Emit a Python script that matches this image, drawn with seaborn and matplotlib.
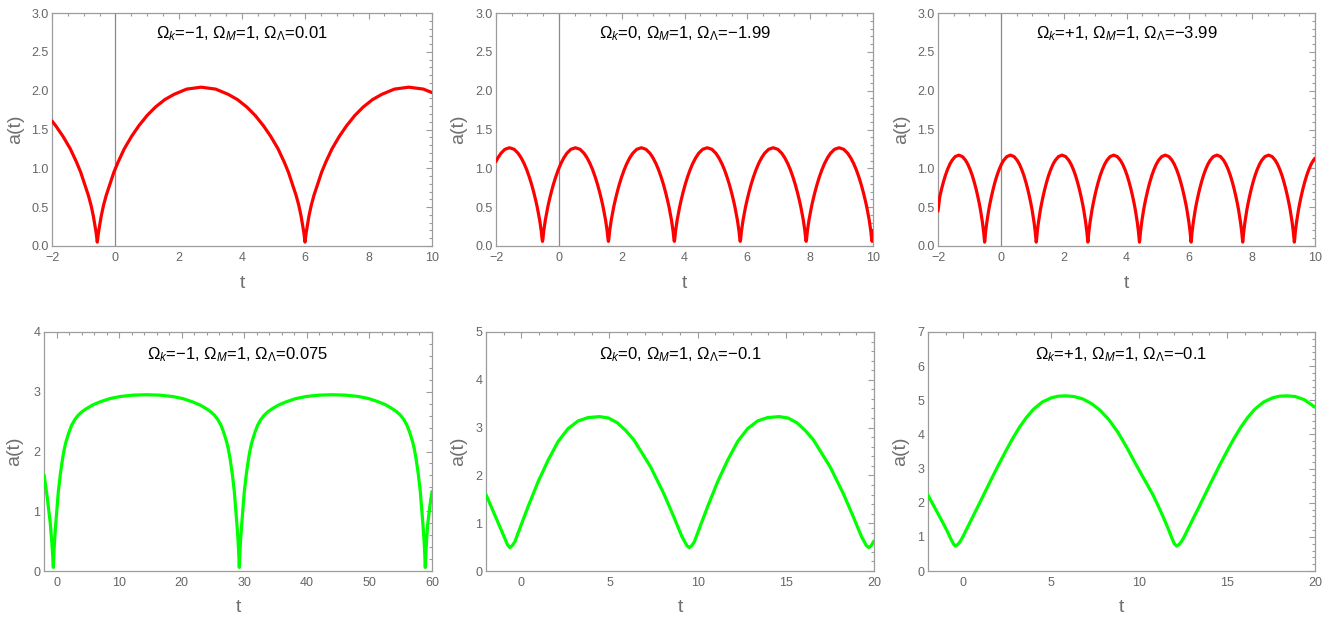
import matplotlib
matplotlib.use("Agg")
import matplotlib.pyplot as plt
import seaborn as sns
from matplotlib.ticker import MultipleLocator

# ---------------- data ----------------
# (points need not be in order: seaborn sorts them by t)
# Panel 1: Omega_k=-1, Omega_M=1, Omega_L=0.01
t1 = [-2.0, -1.882, -1.423, -1.095, -0.852, -0.695, -0.609, -0.57,
      -0.531, -0.445, -0.288, -0.045, 0.283, 0.742, 1.267, 1.857, 2.251, 2.71, 3.169, 3.563,
      4.153, 4.678, 5.137, 5.465, 5.708, 5.865, 5.951, 5.99,
      6.029, 6.115, 6.272, 6.515, 6.843, 7.302, 7.827, 8.417, 8.811, 9.27, 9.729, 10.0,
      -1.652, -1.226, -0.767, -0.373, 0.086, 0.512, 1.004, 1.562, 3.858, 4.416, 4.908, 5.334, 5.793,
      6.187, 6.646, 7.072, 7.564, 8.122]
a1 = [1.61, 1.548, 1.252, 0.951, 0.652, 0.387, 0.178, 0.05,
      0.178, 0.387, 0.652, 0.951, 1.252, 1.548, 1.789, 1.953, 2.020, 2.045, 2.020, 1.953,
      1.789, 1.548, 1.252, 0.951, 0.652, 0.387, 0.178, 0.05,
      0.178, 0.387, 0.652, 0.951, 1.252, 1.548, 1.789, 1.953, 2.020, 2.045, 2.020, 1.975,
      1.411, 1.080, 0.524, 0.524, 1.080, 1.411, 1.681, 1.885, 1.885, 1.681, 1.411, 1.080, 0.524,
      0.524, 1.080, 1.411, 1.681, 1.885]

# Panel 2: Omega_k=0, Omega_M=1, Omega_L=-1.99
t2 = [-2.0, -1.842, -1.716, -1.569, -1.422, -1.296, -1.107, -0.940, -0.793, -0.688, -0.610, -0.560, -0.533,
      -0.52, -0.507, -0.480, -0.430, -0.352, -0.247, -0.100, 0.067, 0.256, 0.382, 0.529, 0.676, 0.802, 0.991, 1.158, 1.305, 1.410, 1.488, 1.538, 1.565,
      1.578, 1.591, 1.618, 1.668, 1.746, 1.851, 1.998, 2.165, 2.354, 2.480, 2.627, 2.774, 2.900, 3.089, 3.256, 3.403, 3.508, 3.586, 3.636, 3.663,
      3.676, 3.689, 3.716, 3.766, 3.844, 3.949, 4.096, 4.263, 4.452, 4.578, 4.725, 4.872, 4.998, 5.187, 5.354, 5.501, 5.606, 5.684, 5.734, 5.761,
      5.774, 5.787, 5.814, 5.864, 5.942, 6.047, 6.194, 6.361, 6.550, 6.676, 6.823, 6.970, 7.096, 7.285, 7.452, 7.599, 7.704, 7.782, 7.832, 7.859,
      7.872, 7.885, 7.912, 7.962, 8.040, 8.145, 8.292, 8.459, 8.648, 8.774, 8.921, 9.068, 9.194, 9.383, 9.550, 9.697, 9.802, 9.880, 9.930, 9.957,
      9.970, 9.983, 10.0,
      -1.936, -1.202, -1.023, -0.866, -0.730,
      -0.310, -0.174, -0.016, 0.162, 0.896, 1.075, 1.232, 1.368,
      1.788, 1.924, 2.082, 2.260, 2.994, 3.173, 3.330, 3.466,
      3.886, 4.022, 4.180, 4.358, 5.092, 5.271, 5.428, 5.564,
      5.984, 6.120, 6.278, 6.456, 7.190, 7.369, 7.526, 7.662,
      8.082, 8.218, 8.376, 8.554, 9.288, 9.467, 9.624, 9.760]
a2 = [1.089, 1.194, 1.245, 1.265, 1.245, 1.194, 1.063, 0.888, 0.683, 0.501, 0.333, 0.194, 0.090,
      0.06, 0.090, 0.194, 0.333, 0.501, 0.683, 0.888, 1.063, 1.194, 1.245, 1.265, 1.245, 1.194, 1.063, 0.888, 0.683, 0.501, 0.333, 0.194, 0.090,
      0.06, 0.090, 0.194, 0.333, 0.501, 0.683, 0.888, 1.063, 1.194, 1.245, 1.265, 1.245, 1.194, 1.063, 0.888, 0.683, 0.501, 0.333, 0.194, 0.090,
      0.06, 0.090, 0.194, 0.333, 0.501, 0.683, 0.888, 1.063, 1.194, 1.245, 1.265, 1.245, 1.194, 1.063, 0.888, 0.683, 0.501, 0.333, 0.194, 0.090,
      0.06, 0.090, 0.194, 0.333, 0.501, 0.683, 0.888, 1.063, 1.194, 1.245, 1.265, 1.245, 1.194, 1.063, 0.888, 0.683, 0.501, 0.333, 0.194, 0.090,
      0.06, 0.090, 0.194, 0.333, 0.501, 0.683, 0.888, 1.063, 1.194, 1.245, 1.265, 1.245, 1.194, 1.063, 0.888, 0.683, 0.501, 0.333, 0.194, 0.090,
      0.06, 0.090, 0.20,
      1.137, 1.137, 0.983, 0.792, 0.578,
      0.578, 0.792, 0.983, 1.137, 1.137, 0.983, 0.792, 0.578,
      0.578, 0.792, 0.983, 1.137, 1.137, 0.983, 0.792, 0.578,
      0.578, 0.792, 0.983, 1.137, 1.137, 0.983, 0.792, 0.578,
      0.578, 0.792, 0.983, 1.137, 1.137, 0.983, 0.792, 0.578,
      0.578, 0.792, 0.983, 1.137, 1.137, 0.983, 0.792, 0.578]

# Panel 3: Omega_k=+1, Omega_M=1, Omega_L=-3.99
t3 = [-2.0, -1.945, -1.830, -1.699, -1.551, -1.338, -1.124, -0.976, -0.845, -0.730, -0.647, -0.587, -0.547, -0.526,
      -0.516, -0.506, -0.485, -0.445, -0.385, -0.302, -0.187, -0.056, 0.092, 0.306, 0.519, 0.667, 0.798, 0.913, 0.996, 1.056, 1.096, 1.117,
      1.127, 1.137, 1.158, 1.198, 1.258, 1.341, 1.456, 1.587, 1.735, 1.949, 2.162, 2.310, 2.441, 2.556, 2.639, 2.699, 2.739, 2.760,
      2.770, 2.780, 2.801, 2.841, 2.901, 2.984, 3.099, 3.230, 3.378, 3.592, 3.805, 3.953, 4.084, 4.199, 4.282, 4.342, 4.382, 4.403,
      4.413, 4.423, 4.444, 4.484, 4.544, 4.627, 4.742, 4.873, 5.021, 5.235, 5.448, 5.596, 5.727, 5.842, 5.925, 5.985, 6.025, 6.046,
      6.056, 6.066, 6.087, 6.127, 6.187, 6.270, 6.385, 6.516, 6.664, 6.878, 7.091, 7.239, 7.370, 7.485, 7.568, 7.628, 7.668, 7.689,
      7.699, 7.709, 7.730, 7.770, 7.830, 7.913, 8.028, 8.159, 8.307, 8.521, 8.734, 8.882, 9.013, 9.128, 9.211, 9.271, 9.311, 9.332,
      9.342, 9.352, 9.373, 9.413, 9.473, 9.556, 9.671, 9.802, 9.950, 10.0,
      -1.888, -1.765, -1.625, -1.453, -1.223, -1.050, -0.910, -0.787, -0.680,
      -0.352, -0.245, -0.122, 0.018, 0.191, 0.421, 0.593, 0.733, 0.856, 0.963,
      1.291, 1.398, 1.521, 1.661, 1.834, 2.064, 2.236, 2.376, 2.499, 2.606,
      2.934, 3.041, 3.164, 3.304, 3.477, 3.707, 3.879, 4.019, 4.142, 4.249,
      4.577, 4.684, 4.807, 4.947, 5.120, 5.350, 5.522, 5.662, 5.785, 5.892,
      6.220, 6.327, 6.450, 6.590, 6.763, 6.993, 7.165, 7.305, 7.428, 7.535,
      7.863, 7.970, 8.093, 8.233, 8.406, 8.636, 8.808, 8.948, 9.071, 9.178,
      9.506, 9.613, 9.736, 9.876]
a3 = [0.45, 0.632, 0.821, 0.983, 1.104, 1.17, 1.104, 0.983, 0.821, 0.632, 0.463, 0.308, 0.179, 0.083,
      0.05, 0.083, 0.179, 0.308, 0.463, 0.632, 0.821, 0.983, 1.104, 1.17, 1.104, 0.983, 0.821, 0.632, 0.463, 0.308, 0.179, 0.083,
      0.05, 0.083, 0.179, 0.308, 0.463, 0.632, 0.821, 0.983, 1.104, 1.17, 1.104, 0.983, 0.821, 0.632, 0.463, 0.308, 0.179, 0.083,
      0.05, 0.083, 0.179, 0.308, 0.463, 0.632, 0.821, 0.983, 1.104, 1.17, 1.104, 0.983, 0.821, 0.632, 0.463, 0.308, 0.179, 0.083,
      0.05, 0.083, 0.179, 0.308, 0.463, 0.632, 0.821, 0.983, 1.104, 1.17, 1.104, 0.983, 0.821, 0.632, 0.463, 0.308, 0.179, 0.083,
      0.05, 0.083, 0.179, 0.308, 0.463, 0.632, 0.821, 0.983, 1.104, 1.17, 1.104, 0.983, 0.821, 0.632, 0.463, 0.308, 0.179, 0.083,
      0.05, 0.083, 0.179, 0.308, 0.463, 0.632, 0.821, 0.983, 1.104, 1.17, 1.104, 0.983, 0.821, 0.632, 0.463, 0.308, 0.179, 0.083,
      0.05, 0.083, 0.179, 0.308, 0.463, 0.632, 0.821, 0.983, 1.104, 1.13,
      0.732, 0.909, 1.052, 1.151, 1.151, 1.052, 0.909, 0.732, 0.535,
      0.535, 0.732, 0.909, 1.052, 1.151, 1.151, 1.052, 0.909, 0.732, 0.535,
      0.535, 0.732, 0.909, 1.052, 1.151, 1.151, 1.052, 0.909, 0.732, 0.535,
      0.535, 0.732, 0.909, 1.052, 1.151, 1.151, 1.052, 0.909, 0.732, 0.535,
      0.535, 0.732, 0.909, 1.052, 1.151, 1.151, 1.052, 0.909, 0.732, 0.535,
      0.535, 0.732, 0.909, 1.052, 1.151, 1.151, 1.052, 0.909, 0.732, 0.535,
      0.535, 0.732, 0.909, 1.052, 1.151, 1.151, 1.052, 0.909, 0.732, 0.535,
      0.535, 0.732, 0.909, 1.052]

# Panel 4: Omega_k=-1, Omega_M=1, Omega_L=0.075
t4 = [-2.0, -1.5, -1.0, -0.75, -0.6,
      -0.51, -0.403, -0.297, -0.137, 0.29, 0.98, 1.51, 2.42, 3.49, 4.82, 6.95, 8.5, 10.15, 12.2, 14.35,
      16.5, 18.55, 20.2, 21.75, 23.88, 25.21, 26.28, 27.19, 27.72, 28.41, 28.837, 28.997, 29.103,
      29.21, 29.317, 29.423, 29.583, 30.01, 30.70, 31.23, 32.14, 33.21, 34.54, 36.67, 38.22, 39.87, 41.92, 44.07,
      46.22, 48.27, 49.92, 51.47, 53.60, 54.93, 56.0, 56.91, 57.44, 58.13, 58.557, 58.717, 58.823,
      58.93, 59.037, 59.143, 59.303, 59.65, 60.0,
      0.62, 1.24, 1.95, 2.93, 4.12, 5.8,
      28.08, 27.46, 26.75, 25.77, 24.58, 22.90,
      30.34, 30.96, 31.67, 32.65, 33.84, 35.52,
      57.80, 57.18, 56.47, 55.49, 54.30, 52.62]
a4 = [1.61, 1.25, 0.80, 0.48, 0.24,
      0.06, 0.33, 0.53, 0.77, 1.33, 1.89, 2.16, 2.44, 2.61, 2.72, 2.83, 2.885, 2.92, 2.943, 2.95,
      2.943, 2.92, 2.885, 2.83, 2.72, 2.61, 2.44, 2.16, 1.89, 1.33, 0.77, 0.53, 0.33,
      0.06, 0.33, 0.53, 0.77, 1.33, 1.89, 2.16, 2.44, 2.61, 2.72, 2.83, 2.885, 2.92, 2.943, 2.95,
      2.943, 2.92, 2.885, 2.83, 2.72, 2.61, 2.44, 2.16, 1.89, 1.33, 0.77, 0.53, 0.33,
      0.06, 0.33, 0.53, 0.77, 1.08, 1.33,
      1.63, 2.04, 2.31, 2.535, 2.67, 2.78,
      1.63, 2.04, 2.31, 2.535, 2.67, 2.78,
      1.63, 2.04, 2.31, 2.535, 2.67, 2.78,
      1.63, 2.04, 2.31, 2.535, 2.67, 2.78]

# Panel 5: Omega_k=0, Omega_M=1, Omega_L=-0.1
t5 = [-2.0, -1.50, -1.22, -0.93, -0.78, -0.65,
      -0.517, -0.366, -0.083, 0.39, 0.957, 1.524, 2.091, 2.658, 3.226, 3.793, 4.44, 4.95, 5.45, 5.92,
      6.39, 7.33, 8.08, 8.64, 9.11, 9.39, 9.53,
      9.663, 9.814, 10.097, 10.57, 11.137, 11.704, 12.271, 12.838, 13.406, 13.973, 14.62, 15.13, 15.63, 16.10,
      16.57, 17.51, 18.26, 18.82, 19.29, 19.57, 19.71,
      19.843, 20.0]
a5 = [1.60, 1.17, 0.93, 0.68, 0.55, 0.49,
      0.53, 0.61, 0.89, 1.35, 1.87, 2.32, 2.71, 2.98, 3.14, 3.21, 3.23, 3.20, 3.10, 2.94,
      2.74, 2.18, 1.62, 1.14, 0.72, 0.53, 0.49,
      0.53, 0.61, 0.89, 1.35, 1.87, 2.32, 2.71, 2.98, 3.14, 3.21, 3.23, 3.20, 3.10, 2.94,
      2.74, 2.18, 1.62, 1.14, 0.72, 0.53, 0.49,
      0.53, 0.63]

# Panel 6: Omega_k=+1, Omega_M=1, Omega_L=-0.1
t6 = [-2.0, -1.6, -1.2, -0.9, -0.7, -0.56, -0.449,
      -0.3, -0.15, 0.0, 0.2, 0.45, 0.8, 1.2, 1.6, 2.0, 2.43, 2.8, 3.2, 3.6, 4.0, 4.5, 5.0, 5.4, 5.84,
      6.3, 6.8, 7.3, 7.8, 8.3, 8.8, 9.3, 9.8, 10.3, 10.8, 11.2, 11.5, 11.7, 11.85, 12.0, 12.13,
      12.28, 12.43, 12.58, 12.78, 13.03, 13.38, 13.78, 14.18, 14.58, 15.01, 15.38, 15.78, 16.18, 16.58,
      17.08, 17.58, 17.98, 18.42, 18.88, 19.38, 20.0]
a6 = [2.22, 1.84, 1.46, 1.16, 0.94, 0.80, 0.73,
      0.78, 0.88, 1.02, 1.23, 1.49, 1.85, 2.27, 2.69, 3.10, 3.52, 3.87, 4.21, 4.50, 4.74, 4.95, 5.07, 5.12, 5.13,
      5.11, 5.04, 4.90, 4.70, 4.42, 4.06, 3.62, 3.14, 2.68, 2.22, 1.78, 1.43, 1.18, 0.98, 0.80, 0.73,
      0.78, 0.88, 1.02, 1.23, 1.49, 1.85, 2.27, 2.69, 3.10, 3.52, 3.87, 4.21, 4.50, 4.74,
      4.95, 5.07, 5.12, 5.13, 5.11, 5.02, 4.80]

titles = [r"$\Omega_k$=−1, $\Omega_M$=1, $\Omega_\Lambda$=0.01",
          r"$\Omega_k$=0, $\Omega_M$=1, $\Omega_\Lambda$=−1.99",
          r"$\Omega_k$=+1, $\Omega_M$=1, $\Omega_\Lambda$=−3.99",
          r"$\Omega_k$=−1, $\Omega_M$=1, $\Omega_\Lambda$=0.075",
          r"$\Omega_k$=0, $\Omega_M$=1, $\Omega_\Lambda$=−0.1",
          r"$\Omega_k$=+1, $\Omega_M$=1, $\Omega_\Lambda$=−0.1"]
x_label = "t"
y_label = "a(t)"

# ---------------- style ----------------
sns.set_style("white")
plt.rcParams["font.family"] = ["Liberation Sans", "DejaVu Sans"]
plt.rcParams["mathtext.fontset"] = "custom"
plt.rcParams["mathtext.rm"] = "Liberation Sans"
plt.rcParams["mathtext.it"] = "Liberation Sans:italic"
plt.rcParams["mathtext.bf"] = "Liberation Sans:bold"
plt.rcParams["axes.unicode_minus"] = True

W, H = 1332, 618
fig = plt.figure(figsize=(W / 100, H / 100), dpi=100)
fig.patch.set_facecolor("white")


def rect(x0, x1, y0, y1):
    return [x0 / W, 1 - y1 / H, (x1 - x0) / W, (y1 - y0) / H]


RED = "#ff0000"
GREEN = "#00ff00"
FRAME = "#9c9c9c"
LABEL = "#666666"

panels = [
    dict(box=(52, 432, 13, 246), t=t1, a=a1, c=RED, xl=(-2, 10), yl=(0, 3), xM=2, xm=0.5, yM=0.5, ym=0.1, zero=True, ty=0.913, ylx=-36),
    dict(box=(496, 873, 13, 246), t=t2, a=a2, c=RED, xl=(-2, 10), yl=(0, 3), xM=2, xm=0.5, yM=0.5, ym=0.1, zero=True, ty=0.913, ylx=-37),
    dict(box=(938, 1315, 13, 246), t=t3, a=a3, c=RED, xl=(-2, 10), yl=(0, 3), xM=2, xm=0.5, yM=0.5, ym=0.1, zero=True, ty=0.913, ylx=-36),
    dict(box=(44, 432, 332, 571), t=t4, a=a4, c=GREEN, xl=(-2, 60), yl=(0, 4), xM=10, xm=2, yM=1, ym=0.2, zero=False, ty=0.904, ylx=-29),
    dict(box=(486, 874, 332, 571), t=t5, a=a5, c=GREEN, xl=(-2, 20), yl=(0, 5), xM=5, xm=1, yM=1, ym=0.2, zero=False, ty=0.904, ylx=-27),
    dict(box=(928, 1315, 332, 571), t=t6, a=a6, c=GREEN, xl=(-2, 20), yl=(0, 7), xM=5, xm=1, yM=1, ym=0.2, zero=False, ty=0.904, ylx=-27),
]

for p, title in zip(panels, titles):
    x0, x1, y0, y1 = p["box"]
    ax = fig.add_axes(rect(x0, x1, y0, y1))
    sns.lineplot(x=p["t"], y=p["a"], ax=ax, color=p["c"], linewidth=2.3,
                 estimator=None, sort=True, zorder=3)
    for ln in ax.get_lines():
        ln.set_solid_joinstyle("round")
        ln.set_solid_capstyle("round")
    if p["zero"]:
        ax.axvline(0, color="#8a8a8a", linewidth=0.9, zorder=2)
    ax.set_xlim(*p["xl"])
    ax.set_ylim(*p["yl"])
    ax.xaxis.set_major_locator(MultipleLocator(p["xM"]))
    ax.xaxis.set_minor_locator(MultipleLocator(p["xm"]))
    ax.yaxis.set_major_locator(MultipleLocator(p["yM"]))
    ax.yaxis.set_minor_locator(MultipleLocator(p["ym"]))
    ax.tick_params(which="both", direction="in", top=True, right=True,
                   color=FRAME, labelcolor=LABEL, labelsize=9, width=0.8)
    ax.tick_params(which="major", length=4.5)
    ax.tick_params(which="minor", length=2.4)
    ax.tick_params(axis="x", which="major", pad=4)
    ax.tick_params(axis="y", which="major", pad=2.5)
    for s in ax.spines.values():
        s.set_color(FRAME)
        s.set_linewidth(0.9)
    ax.grid(False)
    w_px = x1 - x0
    h_px = y1 - y0
    ax.set_xlabel(x_label, fontsize=14, color="#707070")
    ax.set_ylabel(y_label, fontsize=14, color="#707070")
    ax.xaxis.label.set_va("center")
    ax.yaxis.label.set_va("center")
    ax.yaxis.label.set_ha("center")
    ax.xaxis.set_label_coords(0.5, -37 / h_px)
    ax.yaxis.set_label_coords(p["ylx"] / w_px, 0.5)
    ax.text(0.5, p["ty"], title, transform=ax.transAxes, ha="center", va="center",
            fontsize=12, color="black")

fig.savefig("out.png", dpi=100, facecolor="white")
